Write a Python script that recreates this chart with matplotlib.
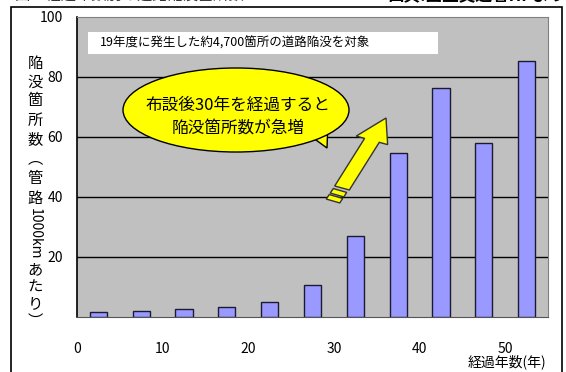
import matplotlib
matplotlib.use("Agg")
import matplotlib.pyplot as plt
from matplotlib.patches import Ellipse, Rectangle, Polygon, FancyArrow
import numpy as np

plt.rcParams['font.family'] = ['Noto Sans CJK JP', 'DejaVu Sans']

# data
bar_centers = [2.5, 7.5, 12.5, 17.5, 22.5, 27.5, 32.5, 37.5, 42.5, 47.5, 52.5]
values = [1.7, 2.0, 2.6, 3.4, 5.0, 10.7, 27.1, 54.6, 76.2, 58.1, 85.3]
x_ticks = [0, 10, 20, 30, 40, 50]
y_ticks = [20, 40, 60, 80, 100]

W, H = 566, 372
fig = plt.figure(figsize=(W/100, H/100), dpi=100)
fig.patch.set_facecolor('white')

def fx(px):
    return px / W

def fy(py):
    return 1 - py / H

# outer border
fig.add_artist(Rectangle((fx(11), fy(380)), fx(562) - fx(11), fy(7) - fy(380),
                         transform=fig.transFigure, fill=False, edgecolor='black', lw=1.2))

# clipped caption at top
fig.text(fx(566), fy(-5), '出典:国土交通省HPより', ha='right', va='center', fontsize=12,
         fontweight='bold', color='black')
fig.text(fx(15), fy(-5), '図　経過年数別の道路陥没箇所数', ha='left', va='center',
         fontsize=11, color='#333333')

ax = fig.add_axes([fx(77), fy(317), fx(548) - fx(77), fy(17) - fy(317)])
ax.set_facecolor('#C0C0C0')
ax.bar(bar_centers, values, width=2.0, color='#9999FF', edgecolor='#1a1a33', linewidth=1.0, zorder=3)
ax.set_xlim(0, 55)
ax.set_ylim(0, 100)
for yv in y_ticks[:-1]:
    ax.axhline(yv, color='black', lw=1.0, zorder=1)
ax.set_yticks(y_ticks)
ax.set_yticklabels([str(v) for v in y_ticks], fontsize=10)
ax.set_xticks(x_ticks)
ax.set_xticklabels([str(v) for v in x_ticks], fontsize=10)
ax.tick_params(axis='both', length=0)
ax.tick_params(axis='y', pad=10)
ax.tick_params(axis='x', pad=18)
for s in ['top', 'right']:
    ax.spines[s].set_color('#808080')
ax.spines['left'].set_color('black')
ax.spines['left'].set_linewidth(1.2)
ax.spines['bottom'].set_color('#555555')

# x axis label
fig.text(fx(507), fy(362), '経過年数(年)', ha='center', va='center', fontsize=10)

# vertical y label
ylab = [('陥', 63, 0, 11), ('没', 82, 0, 11), ('箇', 101, 0, 11), ('所', 120, 0, 11), ('数', 140, 0, 11),
        ('︵', 159, 0, 11), ('管', 179, 0, 11), ('路', 198, 0, 11), ('1000km', 234, -90, 10),
        ('あ', 270, 0, 11), ('た', 287, 0, 11), ('り', 304, 0, 11), ('︶', 321, 0, 11)]
for ch, yy, rot, fs in ylab:
    fig.text(fx(35), fy(yy), ch, ha='center', va='center', fontsize=fs, rotation=rot)

# white note box
fig.add_artist(Rectangle((fx(88), fy(54)), fx(438) - fx(88), fy(32) - fy(54),
                         transform=fig.transFigure, facecolor='white', edgecolor='none', zorder=5))
fig.text(fx(100), fy(43), '19年度に発生した約4,700箇所の道路陥没を対象', ha='left', va='center',
         fontsize=9, zorder=6)

# callout ellipse with tail
tail = Polygon([[fx(305), fy(132)], [fx(327), fy(148)], [fx(328), fy(122)]],
               closed=True, transform=fig.transFigure, facecolor='#FFFF00', edgecolor='black', lw=1.0, zorder=5)
fig.add_artist(tail)
ell = Ellipse((fx(236), fy(110)), fx(226), 84 / H, transform=fig.transFigure,
              facecolor='#FFFF00', edgecolor='black', lw=1.0, zorder=6)
fig.add_artist(ell)
fig.text(fx(238), fy(105), '布設後30年を経過すると', ha='center', va='center', fontsize=12, zorder=7)
fig.text(fx(238), fy(129), '陥没箇所数が急増', ha='center', va='center', fontsize=12, zorder=7)

# arrow
x0, y0, x1, y1 = 342, 188, 386, 118
arr = FancyArrow(fx(x0), fy(y0), fx(x1) - fx(x0), fy(y1) - fy(y0), width=0.028,
                 head_width=0.06, head_length=0.065, length_includes_head=True,
                 transform=fig.transFigure, facecolor='#FFFF00', edgecolor='#333333', lw=1.0, zorder=6)
fig.add_artist(arr)
for (a, b) in [(337, 195), (333, 201)]:
    seg = FancyArrow(fx(a), fy(b), fx(a + 3) - fx(a), fy(b - 4.5) - fy(b), width=0.026, head_width=0.0,
                     head_length=0.0, transform=fig.transFigure, facecolor='#FFFF00',
                     edgecolor='#333333', lw=1.0, zorder=6)
    fig.add_artist(seg)

fig.savefig('out.png', dpi=100)
